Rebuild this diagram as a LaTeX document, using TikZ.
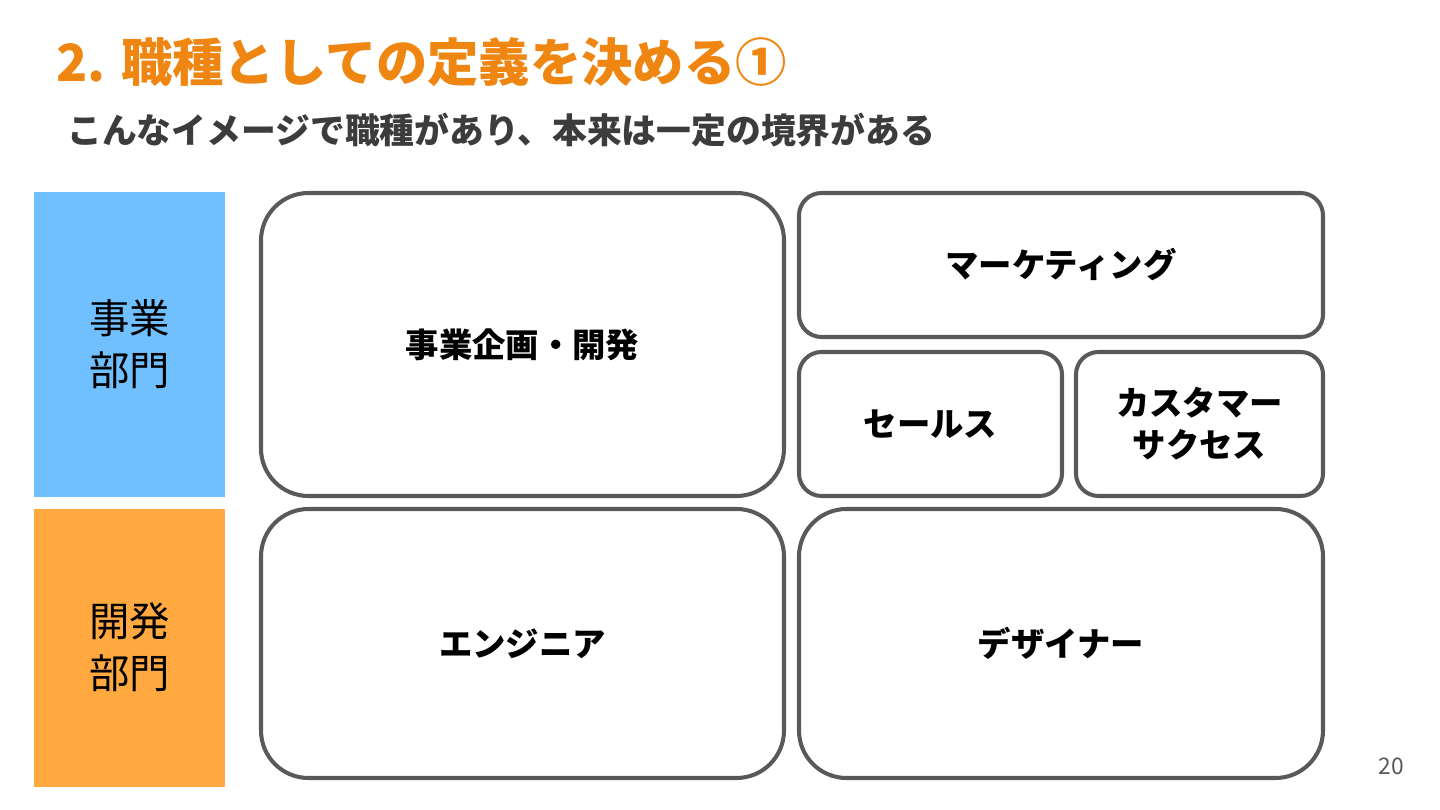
\documentclass[tikz,border=0pt]{standalone}
\usepackage{fontspec}
\setmainfont{Noto Sans CJK JP}
\usetikzlibrary{positioning}
\definecolor{ttlorange}{HTML}{EF8612}
\definecolor{subgray}{HTML}{3C3C3C}
\definecolor{linegray}{HTML}{595959}
\definecolor{bizblue}{HTML}{70BFFF}
\definecolor{devorange}{HTML}{FFA940}

\begin{document}
\begin{tikzpicture}[
  role/.style={draw=linegray, line width=2.3pt, fill=white, align=center,
    font=\fontsize{19}{24}\selectfont\bfseries, inner sep=0pt},
  bigrole/.style={role, rounded corners=0.95cm},
  smallrole/.style={role, rounded corners=0.45cm},
  dept/.style={draw=white, line width=0.6pt, align=center, inner sep=0pt,
    minimum width=3.86cm, font=\fontsize{23}{29.5}\selectfont}]
  \useasboundingbox[fill=white] (0,0) rectangle (28.8,16.2);

  % heading
  \node[anchor=west, inner sep=0pt, text=ttlorange,
    font=\fontsize{29.2}{35}\selectfont\bfseries] (title) at (1.12,14.96)
    {2. 職種としての定義を決める①};
  \node[anchor=west, inner sep=0pt, text=subgray,
    font=\fontsize{19.8}{24}\selectfont\bfseries] (sub) at (1.34,13.6)
    {こんなイメージで職種があり、本来は一定の境界がある};

  % departments
  \node[dept, fill=bizblue, minimum height=6.14cm] (biz) at (2.59,9.31) {事業\\部門};
  \node[dept, fill=devorange, minimum height=5.58cm, below=0.18cm of biz] (dev) {開発\\部門};

  % roles
  \node[bigrole, minimum width=10.46cm, minimum height=6.06cm] (plan) at (10.45,9.31) {事業企画・開発};
  \node[bigrole, minimum width=10.46cm, minimum height=5.38cm] (eng) at (10.45,3.33) {エンジニア};
  \node[smallrole, minimum width=10.48cm, minimum height=2.88cm] (mkt) at (21.22,10.9) {マーケティング};
  \node[smallrole, minimum width=5.26cm, minimum height=2.88cm] (sales) at (18.61,7.72) {セールス};
  \node[smallrole, minimum width=4.94cm, minimum height=2.88cm] (cs) at (23.99,7.72) {カスタマー\\サクセス};
  \node[bigrole, minimum width=10.48cm, minimum height=5.38cm] (design) at (21.22,3.33) {デザイナー};

  \node[text=linegray, inner sep=0pt, font=\fontsize{13}{15}\selectfont] (page) at (27.83,0.88) {20};
\end{tikzpicture}
\end{document}
